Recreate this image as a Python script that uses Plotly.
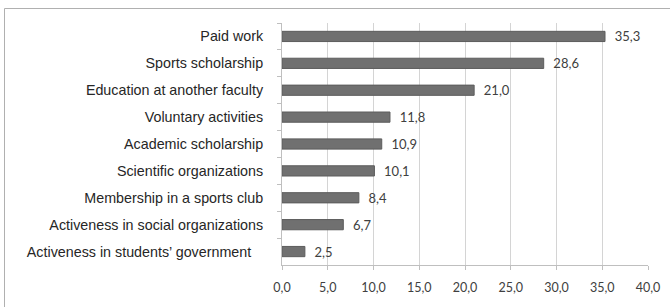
import plotly.graph_objects as go

categories = [
    "Paid work",
    "Sports scholarship",
    "Education at another faculty",
    "Voluntary activities",
    "Academic scholarship",
    "Scientific organizations",
    "Membership in a sports club",
    "Activeness in social organizations",
    "Activeness in students’ government\u00a0\u00a0\u00a0",
]
values = [35.3, 28.6, 21.0, 11.8, 10.9, 10.1, 8.4, 6.7, 2.5]
x_ticks = [0, 5, 10, 15, 20, 25, 30, 35, 40]

W, H = 670, 307
ML, MR, MT, MB = 282, 22, 23, 42
pw = W - ML - MR
ph = H - MT - MB

fig = go.Figure()
fig.add_trace(go.Bar(
    y=categories,
    x=values,
    orientation="h",
    width=0.38,
    marker=dict(color="#707070", line=dict(color="#5c5c5c", width=1)),
    texttemplate="\u00a0\u00a0%{x:.1f}",
    textposition="outside",
    constraintext="none",
    textfont=dict(family="Lato", size=13, color="#404040"),
    cliponaxis=False,
    hoverinfo="skip",
))

fig.update_layout(
    width=W, height=H,
    margin=dict(l=ML, r=MR, t=MT, b=MB, autoexpand=False),
    paper_bgcolor="white",
    plot_bgcolor="white",
    separators=", ",
    showlegend=False,
    xaxis=dict(
        range=[0, 40],
        tickvals=x_ticks,
        tickformat=".1f",
        showgrid=True,
        gridcolor="#d4d4d4",
        gridwidth=1,
        zeroline=False,
        showline=True,
        linecolor="#bfbfbf",
        ticks="outside",
        ticklen=4,
        tickcolor="#bfbfbf",
        tickfont=dict(family="Lato", size=12.5, color="#404040"),
        ticklabelstandoff=7,
        fixedrange=True,
    ),
    yaxis=dict(
        autorange="reversed",
        showline=True,
        linecolor="#bfbfbf",
        ticks="outside",
        tickson="boundaries",
        ticklen=4,
        tickcolor="#bfbfbf",
        showgrid=False,
        tickfont=dict(family="Liberation Sans", size=14.3, color="#262626"),
        ticklabelstandoff=15,
        fixedrange=True,
    ),
)

# outer chart border
fig.add_shape(
    type="rect", xref="paper", yref="paper",
    x0=(4.5 - ML) / pw, x1=(W + 4 - ML) / pw,
    y0=-(H + 4 - MT - ph) / ph, y1=(ph + MT - 8.5) / ph,
    line=dict(color="#b0b0b0", width=1),
    fillcolor="rgba(0,0,0,0)",
    layer="above",
)

fig.write_html(
    "out.html",
    config={"displayModeBar": False, "staticPlot": True},
    post_script="document.body.style.margin='0';document.body.style.padding='0';",
)
